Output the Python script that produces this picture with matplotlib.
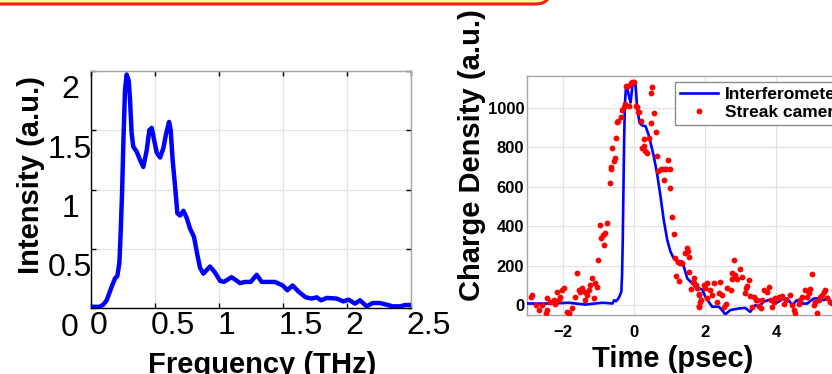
import matplotlib
matplotlib.use("Agg")
import matplotlib.pyplot as plt
from matplotlib.patches import FancyBboxPatch
from matplotlib.transforms import ScaledTranslation, IdentityTransform
from matplotlib.lines import Line2D

plt.rcParams['font.family'] = ['Liberation Sans', 'DejaVu Sans']

# ---------------- data: left panel (spectrum) ----------------
freq = [0.02, 0.07, 0.10, 0.125, 0.164, 0.19, 0.208, 0.224, 0.234, 0.245, 0.255, 0.268,
        0.281, 0.297, 0.307, 0.32, 0.333, 0.359, 0.385, 0.411, 0.4375, 0.458, 0.477,
        0.495, 0.516, 0.542, 0.568, 0.589, 0.612, 0.625, 0.64, 0.659, 0.677, 0.698,
        0.724, 0.75, 0.776, 0.807, 0.833, 0.854, 0.88, 0.906, 0.932, 0.971, 1.01,
        1.04, 1.10, 1.128, 1.167, 1.206, 1.25, 1.297, 1.336, 1.375, 1.44, 1.50,
        1.536, 1.578, 1.622, 1.68, 1.727, 1.766, 1.80, 1.844, 1.92, 1.974, 2.016,
        2.065, 2.104, 2.156, 2.203, 2.26, 2.312, 2.36, 2.417, 2.456, 2.5]
intensity = [0.01, 0.01, 0.03, 0.065, 0.18, 0.25, 0.27, 0.38, 0.63, 0.97, 1.39, 1.84,
             1.97, 1.92, 1.76, 1.47, 1.36, 1.32, 1.25, 1.19, 1.33, 1.50, 1.52,
             1.42, 1.31, 1.27, 1.35, 1.47, 1.57, 1.50, 1.25, 1.03, 0.80, 0.78,
             0.82, 0.76, 0.67, 0.60, 0.45, 0.34, 0.29, 0.32, 0.35, 0.30, 0.23,
             0.22, 0.26, 0.24, 0.21, 0.22, 0.22, 0.28, 0.22, 0.22, 0.22, 0.19,
             0.15, 0.19, 0.14, 0.09, 0.08, 0.09, 0.065, 0.085, 0.08, 0.056, 0.07,
             0.037, 0.065, 0.014, 0.042, 0.042, 0.028, 0.014, 0.014, 0.025, 0.025]
left_xticks = [0, 0.5, 1, 1.5, 2, 2.5]
left_xticklabels = ['0', '0.5', '1', '1.5', '2', '2.5']
left_yticks = [0, 0.5, 1, 1.5, 2]
left_yticklabels = ['0', '0.5', '1', '1.5', '2']

# ---------------- data: right panel (charge density) ----------------
interf_t = [-3.0, -2.6, -2.3, -1.83, -1.36, -0.89, -0.7, -0.6, -0.55, -0.5, -0.45, -0.4,
            -0.35, -0.33, -0.31, -0.29, -0.27, -0.25, -0.22, -0.19, -0.14, -0.09, -0.04,
            0.02, 0.05, 0.09, 0.16, 0.23, 0.33, 0.42, 0.56, 0.65, 0.75, 0.84, 0.94, 1.03,
            1.12, 1.2, 1.36, 1.43, 1.5, 1.64, 1.73, 1.82, 1.92, 2.01, 2.2, 2.39, 2.5,
            2.57, 2.71, 2.95, 3.13, 3.27, 3.41, 3.51, 3.65, 3.84, 3.98, 4.17, 4.31,
            4.45, 4.58, 4.73, 4.87, 5.06, 5.2, 5.34, 5.46, 5.57, 5.7, 6.0]
interf_q = [8, 8, 8, 12, 3, 12, 10, 8, 25, 20, 30, 45,
            68, 150, 330, 600, 850, 1020, 1100, 1107, 1060, 1026, 1110,
            1118, 1115, 1008, 923, 910, 906, 860, 754, 670, 551, 432, 330, 271,
            237, 225, 220, 180, 136, 110, 93, 85, 80, 42, -8, -8, -30,
            -47, -25, -17, -14, -34, 0, -8, 17, 29, 8, 29, 34,
            0, 25, 8, 8, 34, 34, 25, 42, 0, 10, 10]

streak_t = [-2.90, -2.86, -2.76, -2.67, -2.58, -2.48, -2.43, -2.43, -2.34, -2.25, -2.20,
            -2.15, -2.11, -2.06, -2.01, -1.97, -1.87, -1.83, -1.73, -1.64, -1.59, -1.54,
            -1.50, -1.45, -1.38, -1.36, -1.31, -1.26, -1.22, -1.17, -1.12, -1.10, -1.03,
            -1.00, -0.94, -0.91, -0.86, -0.81, -0.84, -0.75,
            -0.68, -0.65, -0.63, -0.61, -0.56, -0.53, -0.49, -0.47, -0.44, -0.37, -0.33,
            -0.28, -0.25, -0.21, -0.17, -0.14, -0.09, -0.04, 0.0, 0.05, 0.09, 0.12, 0.14,
            0.19, 0.51, 0.49, 0.56, 0.47, 0.61, 0.28, 0.42, 0.22, 0.28, 0.31, 0.37, 0.66,
            0.96, 0.68, 0.75, 0.84, 0.91, 1.01, 0.85, 1.03, 1.08, 1.13, 1.15, 1.25, 1.19,
            1.27, 1.31, 1.36, 1.43, 1.50, 1.52, 1.54, 1.56, 1.62, 1.67, 1.76, 1.83, 1.84,
            1.90, 1.68, 1.68, 1.78, 1.83, 1.87, 1.83, 1.97, 2.06, 2.01, 2.15, 2.06, 2.25,
            2.20, 2.34, 2.43, 2.39, 2.48, 2.53, 2.58, 2.62, 2.72, 2.81, 2.76, 2.84, 2.76,
            2.90, 2.98, 3.04, 3.14, 3.18, 3.23, 3.11, 3.25, 3.32, 3.37, 3.42, 3.46, 3.51,
            3.56, 3.61, 3.65, 3.75, 3.79, 3.84, 3.89, 3.93, 3.98, 4.07, 4.12, 4.17, 4.21,
            4.28, 4.40, 4.45, 4.50, 4.54, 4.64, 4.68, 4.73, 4.80, 4.87, 4.92, 4.96, 5.01,
            5.06, 5.10, 5.15, 5.20, 5.24, 5.29, 5.34, 5.38, 5.43, 5.52, 5.62, 5.62]
streak_q = [42, 51, 0, -25, 0, -42, -25, 34, 17, 25, 8,
            68, 25, 42, 76, 85, -34, -42, -17, 42, 161, 76,
            68, 85, 68, 25, 51, 76, 102, 136, 34, 110, 93,
            229, 407, 339, 356, 364, 305, 415,
            619, 690, 700, 797, 729, 746, 844, 927, 930, 950, 990,
            1005, 1018, 1107, 1110, 1008, 1124, 1130, 1128, 1008, 1005, 978, 978,
            932, 1102, 1073, 974, 923, 878, 842, 848, 797, 805, 780, 771, 754,
            737, 678, 690, 690, 691, 690, 636, 593, 444, 361, 237, 220, 148,
            123, 212, 212, 263, 288, 275, 246, 166, 80, 119, 102, 56, -5,
            25, 136, 110, 85, 51, 17, -8, 102, 110, 85, 76, 34, 110,
            51, 17, 119, 59, 51, -8, 8, 85, 76, 229, 161, 153, 132,
            131, 183, 144, 89, 96, 127, 59, 46, -8, 42, 25, 25, -5,
            -17, 25, 76, 68, 93, 25, -12, 17, 34, 42, 34, 46, 8,
            25, 51, 0, -25, -42, 8, 25, 42, 76, 42, 59, 80, 157,
            0, 17, -42, 25, 42, 51, 68, 76, 34, 17, 25, 76]
right_xticks = [-2, 0, 2, 4]
right_yticks = [0, 200, 400, 600, 800, 1000]
legend_labels = ['Interferometer', 'Streak camera']

W, H = 832, 374
fig = plt.figure(figsize=(W / 100, H / 100), dpi=100)
fig.patch.set_facecolor('white')

# top slide box (yellow with red rounded border)
box = FancyBboxPatch((-30, 370), 580, 40, boxstyle='round,pad=0,rounding_size=14',
                     transform=IdentityTransform(), facecolor='#ffff99',
                     edgecolor='#ff1a1a', linewidth=2.2, zorder=5)
fig.add_artist(box)

grid_kw = dict(color='#e3e3e3', linewidth=0.9)

# ---------------- left axes ----------------
axL = fig.add_axes([90.7 / W, 1 - 308 / H, 320 / W, 237 / H])
axL.plot(freq, intensity, color='#0000ff', linewidth=3.2, solid_joinstyle='round', zorder=3)
axL.set_xlim(0, 2.5)
axL.set_ylim(0, 2)
axL.set_xticks(left_xticks)
axL.set_xticklabels(left_xticklabels)
axL.set_yticks(left_yticks)
axL.set_yticklabels(left_yticklabels)
axL.grid(True, **grid_kw)
axL.set_axisbelow(True)
for s in ['top', 'right']:
    axL.spines[s].set_color('#a6a6a6')
for s in ['left', 'bottom']:
    axL.spines[s].set_color('black')
for s in axL.spines.values():
    s.set_linewidth(1.0)
axL.tick_params(direction='in', length=3.5, width=1, color='black', labelsize=23,
                top=True, right=True, pad=2.5)
axL.tick_params(axis='y', pad=0)
for t in axL.yaxis.get_major_ticks():
    t.label1.set_horizontalalignment('center')
    t.label1.set_transform(t.label1.get_transform() +
                           ScaledTranslation(-20.7 / 100, -16 / 100, fig.dpi_scale_trans))
for t, lab in zip(axL.xaxis.get_major_ticks(), left_xticklabels):
    dx = 8 + 5 * (len(lab) - 1)
    t.label1.set_transform(t.label1.get_transform() +
                           ScaledTranslation(dx / 100, 0, fig.dpi_scale_trans))
axL.set_ylabel('Intensity (a.u.)', fontsize=21, fontweight='bold')
axL.yaxis.label.set_verticalalignment('center')
axL.yaxis.set_label_coords((31 - 90.7) / 320, (308 - 175) / 237)
axL.set_xlabel('Frequency (THz)', fontsize=21, fontweight='bold')
axL.xaxis.label.set_verticalalignment('top')
axL.xaxis.set_label_coords((262 - 90.7) / 320, (308 - 351) / 237)

# ---------------- right axes ----------------
x0, x1 = -3.0, 6.5
pxu = 35.6
axR = fig.add_axes([527 / W, 1 - 315 / H, (x1 - x0) * pxu / W, 239 / H])
axR.plot(interf_t, interf_q, color='#0000ff', linewidth=1.9, zorder=3)
axR.plot(streak_t, streak_q, linestyle='none', marker='o', markersize=4.2,
         markeredgewidth=0, color='#ff0000', zorder=4)
axR.set_xlim(x0, x1)
axR.set_ylim(-50, 1160)
axR.set_xticks(right_xticks)
axR.set_yticks(right_yticks)
axR.grid(True, **grid_kw)
axR.set_axisbelow(True)
for s in axR.spines.values():
    s.set_color('#a6a6a6')
    s.set_linewidth(1.0)
axR.tick_params(direction='in', length=0, labelsize=12)
axR.tick_params(axis='y', pad=2)
axR.tick_params(axis='x', pad=7)
for lab in axR.get_xticklabels() + axR.get_yticklabels():
    lab.set_fontweight('bold')
axR.set_ylabel('Charge Density (a.u.)', fontsize=21, fontweight='bold')
axR.yaxis.label.set_verticalalignment('center')
axR.yaxis.set_label_coords((472 - 527) / ((x1 - x0) * pxu), (315 - 155) / 239)
axR.set_xlabel('Time (psec)', fontsize=21, fontweight='bold')
axR.xaxis.label.set_verticalalignment('top')
axR.xaxis.set_label_coords((673 - 527) / ((x1 - x0) * pxu), (315 - 345) / 239)

handles = [Line2D([], [], color='#0000ff', linewidth=1.9),
           Line2D([], [], linestyle='none', marker='o', markersize=4.2,
                  markeredgewidth=0, color='#ff0000')]
leg = axR.legend(handles, legend_labels, loc='upper left',
                 bbox_to_anchor=(675 / W, 1 - 82 / H), bbox_transform=fig.transFigure,
                 borderaxespad=0, fancybox=False, framealpha=1, edgecolor='#8c8c8c',
                 prop={'weight': 'bold', 'size': 12.5}, handlelength=2.2,
                 handletextpad=0.4, borderpad=0.3, labelspacing=0.15)
leg.get_frame().set_linewidth(1.0)

fig.savefig('out.png', dpi=100)
